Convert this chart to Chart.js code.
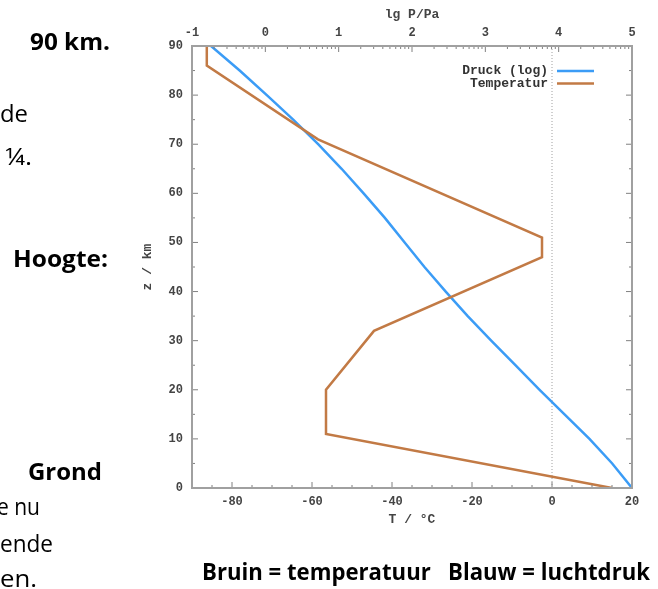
<!DOCTYPE html>
<html>
<head>
<meta charset="utf-8">
<script src="https://cdn.jsdelivr.net/npm/chart.js@4.4.1/dist/chart.umd.min.js"></script>
<style>
html,body{margin:0;padding:0;background:#fff;}
#wrap{position:relative;width:658px;height:589px;overflow:hidden;background:#fff;}
#c{position:absolute;left:0;top:0;}
.t{position:absolute;font-family:'Open Sans','Noto Sans',sans-serif;font-size:23px;color:#000;white-space:nowrap;line-height:1;transform-origin:0 0;}
.b{font-weight:700;}
</style>
</head>
<body>
<div id="wrap">
<canvas id="c" width="658" height="589"></canvas>
<div class="t b" data-w="80" style="left:30px;top:29.6px;">90 km.</div>
<div class="t" data-w="28" style="left:0px;top:101.6px;">de</div>
<div class="t" data-w="27" style="left:5px;top:144.6px;">¼.</div>
<div class="t b" data-w="95" style="left:13px;top:246.6px;">Hoogte:</div>
<div class="t b" data-w="74" style="left:28px;top:459.6px;">Grond</div>
<div class="t" data-w="43" style="left:-3px;top:494.6px;">e nu</div>
<div class="t" data-w="53" style="left:0px;top:531.6px;">ende</div>
<div class="t" data-w="37" style="left:0px;top:566.6px;">en.</div>
<div class="t b" data-w="448" style="left:202px;top:559.6px;">Bruin = temperatuur&nbsp;&nbsp;&nbsp;Blauw = luchtdruk</div>
</div>
<script>
// ---- data ----
const seriesLabels = ['Druck (log)', 'Temperatur'];
const pressureHeights = [0, 5, 10, 15, 20, 25, 30, 35, 40, 45, 50, 55, 60, 65, 70, 75, 80, 85, 90];
const pressureLg = [5.00, 4.73, 4.42, 4.08, 3.74, 3.41, 3.08, 2.76, 2.46, 2.17, 1.90, 1.63, 1.34, 1.04, 0.72, 0.38, 0.02, -0.35, -0.74];
const tempHeights = [0, 11, 20, 32, 47, 51, 71, 86, 90];
const tempValues = [15, -56.5, -56.5, -44.5, -2.5, -2.5, -58.5, -86.3, -86.3];
const heightTicks = [0, 10, 20, 30, 40, 50, 60, 70, 80, 90];
const tempTicks = [-80, -60, -40, -20, 0, 20];
const pressureTicks = [-1, 0, 1, 2, 3, 4, 5];
const titleT = 'T / °C';
const titleP = 'lg P/Pa';
const titleZ = 'z / km';

const blue = '#3b9cf6';
const brown = '#c27a45';
const tickFont = {family: "'Liberation Mono', monospace", size: 12, weight: 'bold'};
const titleFont = {family: "'Liberation Mono', monospace", size: 13, weight: 'bold'};
const labelColor = '#444';

// fit the surrounding document text to the widths seen in the reference
function fitTexts() {
  document.querySelectorAll('.t[data-w]').forEach(el => {
    el.style.transform = 'none';
    const w = el.getBoundingClientRect().width;
    if (w > 0) el.style.transform = 'scaleX(' + (parseFloat(el.dataset.w) / w) + ')';
  });
}
fitTexts();
if (document.fonts && document.fonts.ready) document.fonts.ready.then(fitTexts);

const gnuplotFrame = {
  id: 'gnuplotFrame',
  beforeDatasetsDraw(chart) {
    const {ctx, chartArea: a, scales} = chart;
    const x0 = scales.x.getPixelForValue(0);
    ctx.save();
    ctx.strokeStyle = '#a0a0a0';
    ctx.lineWidth = 1;
    ctx.setLineDash([1, 2]);
    ctx.beginPath();
    ctx.moveTo(x0, a.bottom);
    ctx.lineTo(x0, a.top);
    ctx.stroke();
    ctx.restore();
  },
  afterDraw(chart) {
    const {ctx, chartArea: a, scales} = chart;
    ctx.save();
    ctx.strokeStyle = '#808080';
    ctx.lineWidth = 1;
    ctx.beginPath();
    const tick = (x1, y1, x2, y2) => { ctx.moveTo(x1, y1); ctx.lineTo(x2, y2); };
    for (let v = 0; v <= 90; v += 5) {
      const y = scales.y.getPixelForValue(v);
      const len = heightTicks.includes(v) ? 6 : 3;
      tick(a.left, y, a.left + len, y);
      tick(a.right, y, a.right - len, y);
    }
    for (let v = -90; v <= 20; v += 5) {
      const x = scales.x.getPixelForValue(v);
      const len = tempTicks.includes(v) ? 6 : 3;
      tick(x, a.bottom, x, a.bottom - len);
    }
    pressureTicks.forEach(d => {
      const x = scales.x2.getPixelForValue(d);
      tick(x, a.top, x, a.top + 6);
      if (d < pressureTicks[pressureTicks.length - 1]) {
        for (let k = 2; k <= 9; k++) {
          const xm = scales.x2.getPixelForValue(d + Math.log10(k));
          tick(xm, a.top, xm, a.top + 3);
        }
      }
    });
    ctx.stroke();
    ctx.lineWidth = 2;
    ctx.strokeStyle = '#a0a0a0';
    ctx.strokeRect(a.left, a.top, a.right - a.left, a.bottom - a.top);
    // legend inside the plot
    ctx.font = "bold 13px 'Liberation Mono', monospace";
    ctx.textAlign = 'right';
    ctx.textBaseline = 'middle';
    chart.data.datasets.forEach((ds, i) => {
      const y = a.top + 25 + i * 12.6;
      ctx.fillStyle = '#333';
      ctx.fillText(ds.label, a.right - 84, y);
      ctx.strokeStyle = ds.borderColor;
      ctx.lineWidth = 2.5;
      ctx.beginPath();
      ctx.moveTo(a.right - 75, y);
      ctx.lineTo(a.right - 38, y);
      ctx.stroke();
    });
    ctx.restore();
  }
};

function fixedTicks(list) {
  return function (scale) { scale.ticks = list.map(v => ({value: v})); };
}
function zeroPad(scale) {
  scale.paddingLeft = 0; scale.paddingRight = 0; scale.paddingTop = 0; scale.paddingBottom = 0;
}

new Chart(document.getElementById('c'), {
  type: 'scatter',
  data: {
    datasets: [
      {
        label: seriesLabels[0],
        data: pressureHeights.map((z, i) => ({x: pressureLg[i], y: z})),
        xAxisID: 'x2', yAxisID: 'y',
        showLine: true, borderColor: blue, borderWidth: 2.5,
        pointRadius: 0, fill: false, tension: 0, order: 1
      },
      {
        label: seriesLabels[1],
        data: tempHeights.map((z, i) => ({x: tempValues[i], y: z})),
        xAxisID: 'x', yAxisID: 'y',
        showLine: true, borderColor: brown, borderWidth: 2.5,
        pointRadius: 0, fill: false, tension: 0, order: 0
      }
    ]
  },
  options: {
    responsive: false,
    animation: false,
    layout: {padding: {left: 140, right: 26, top: 0, bottom: 59}},
    plugins: {legend: {display: false}, tooltip: {enabled: false}},
    scales: {
      x: {
        type: 'linear', position: 'bottom', min: -90, max: 20,
        afterBuildTicks: fixedTicks(tempTicks),
        afterFit(s) { s.height = 42; zeroPad(s); },
        grid: {display: false, drawTicks: false},
        border: {display: false},
        ticks: {font: tickFont, color: labelColor, padding: 7, maxRotation: 0, autoSkip: false,
                callback: v => String(v)},
        title: {display: true, text: titleT, font: titleFont, color: labelColor, padding: {top: 0, bottom: 2}}
      },
      x2: {
        type: 'linear', position: 'top', min: -1, max: 5,
        afterBuildTicks: fixedTicks(pressureTicks),
        afterFit(s) { s.height = 46; zeroPad(s); },
        grid: {display: false, drawTicks: false},
        border: {display: false},
        ticks: {font: tickFont, color: labelColor, padding: 6, maxRotation: 0, autoSkip: false,
                callback: v => String(v)},
        title: {display: true, text: titleP, font: titleFont, color: labelColor, padding: {top: 7, bottom: 0}}
      },
      y: {
        type: 'linear', position: 'left', min: 0, max: 90,
        afterBuildTicks: fixedTicks(heightTicks),
        afterFit(s) { s.width = 52; zeroPad(s); },
        grid: {display: false, drawTicks: false},
        border: {display: false},
        ticks: {font: tickFont, color: labelColor, padding: 9, autoSkip: false,
                callback: v => String(v)},
        title: {display: true, text: titleZ, font: titleFont, color: labelColor, padding: {top: 0, bottom: 0}}
      }
    }
  },
  plugins: [gnuplotFrame]
});
</script>
</body>
</html>
